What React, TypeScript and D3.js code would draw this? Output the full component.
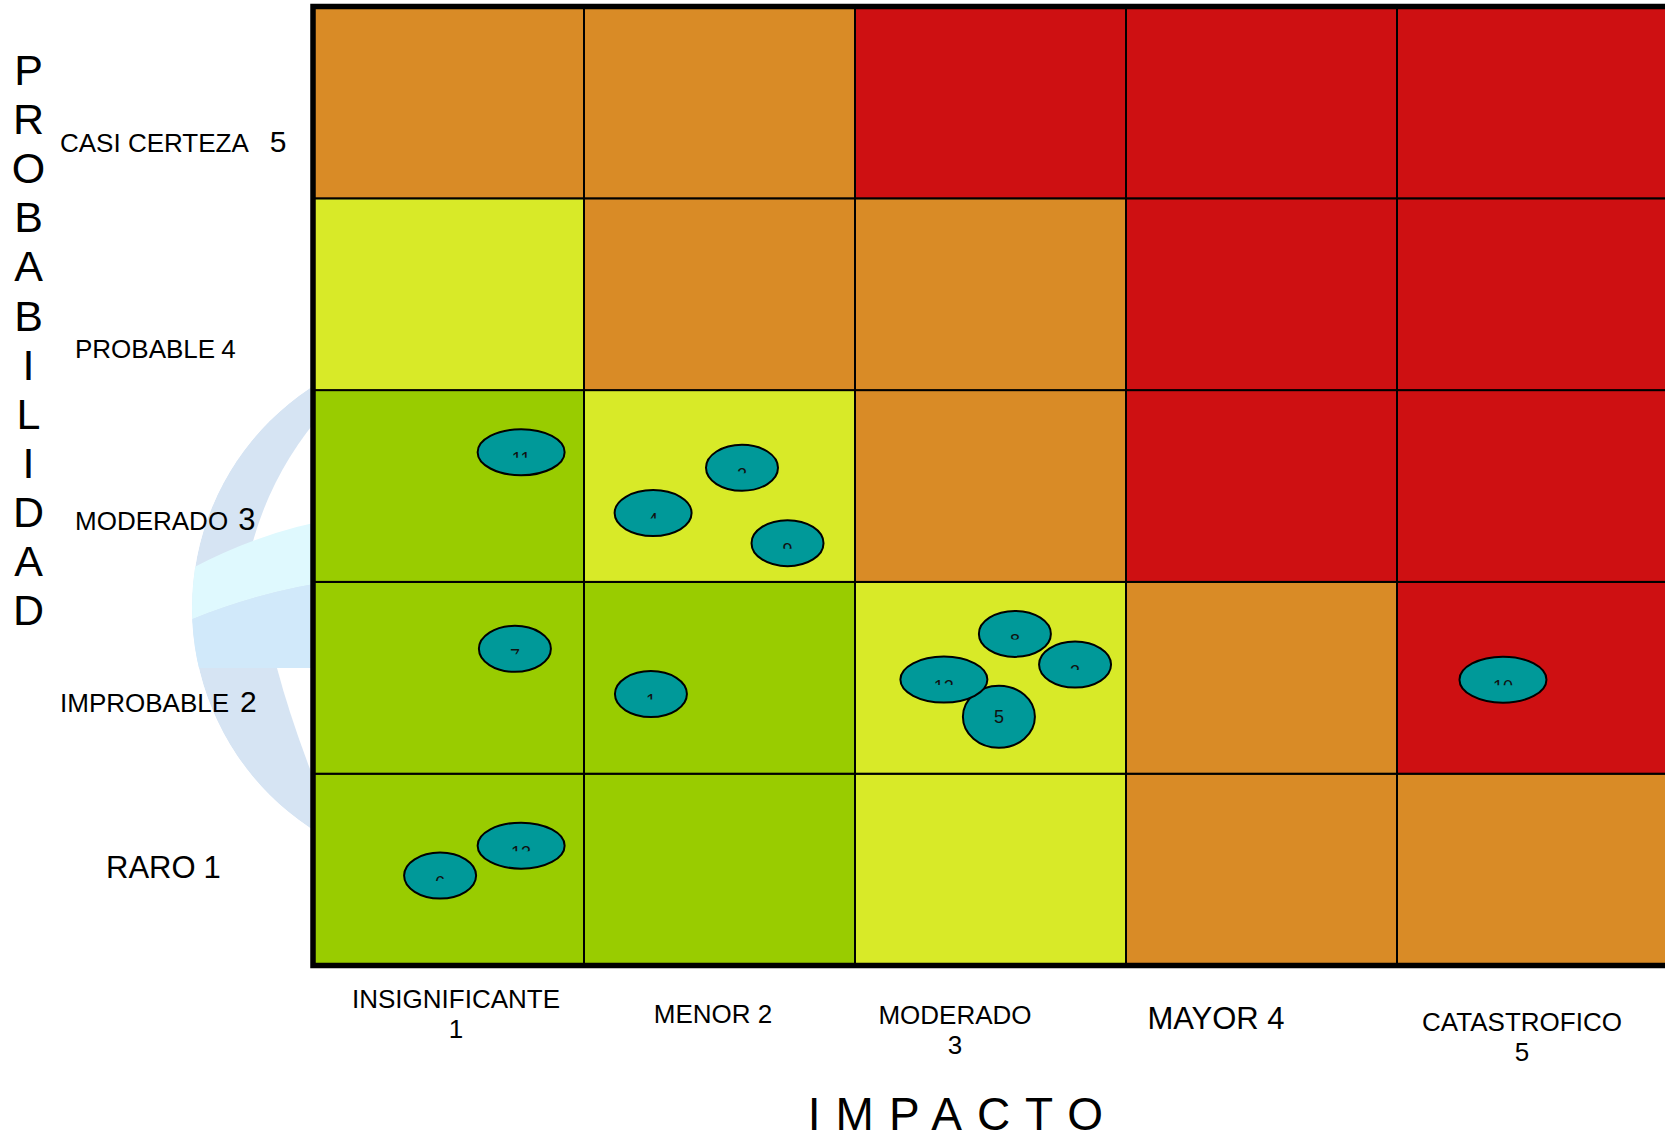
import React, { useEffect, useRef } from 'react';
import * as d3 from 'd3';

// niveles de la matriz
const impactLevels = [1, 2, 3, 4, 5];
const probLevels = [1, 2, 3, 4, 5];

const probNames = ['RARO', 'IMPROBABLE', 'MODERADO', 'PROBABLE', 'CASI CERTEZA'];
const impactLabelLines = [['INSIGNIFICANTE', '1'], ['MENOR 2'], ['MODERADO', '3'], ['MAYOR 4'], ['CATASTROFICO', '5']];

// zona de cada celda: filas = probabilidad 1..5, columnas = impacto 1..5
const riskZones = [
  ['bajo', 'bajo', 'moderado', 'alto', 'alto'],
  ['bajo', 'bajo', 'moderado', 'alto', 'extremo'],
  ['bajo', 'moderado', 'alto', 'extremo', 'extremo'],
  ['moderado', 'alto', 'alto', 'extremo', 'extremo'],
  ['alto', 'alto', 'extremo', 'extremo', 'extremo'],
];

const riskIds = ['1', '2', '3', '4', '5', '6', '7', '8', '9', '10', '11', '12', '13'];
const riskImpact = [1.747, 2.083, 3.312, 1.755, 3.031, 0.969, 1.245, 3.09, 2.251, 4.891, 1.268, 2.828, 1.268];
const riskProb = [1.915, 3.095, 2.069, 2.859, 1.797, 0.969, 2.151, 2.229, 2.702, 1.99, 3.176, 1.991, 1.125];

const zoneColors = { bajo: '#99CC00', moderado: '#D8EA28', alto: '#D98B26', extremo: '#CE1012' };

const FONT = '"Liberation Sans", Arial, sans-serif';

// estilos de las etiquetas (tamaño / desplazamiento)
const probLabelStyle = [
  { x: 106, dy: 8, nameSize: 31, numSize: 31, gap: 8 },
  { x: 60, dy: 34, nameSize: 26, numSize: 30, gap: 11 },
  { x: 75, dy: 44, nameSize: 26, numSize: 31, gap: 10 },
  { x: 75, dy: 64, nameSize: 26, numSize: 26, gap: 6 },
  { x: 60, dy: 50, nameSize: 26, numSize: 30, gap: 21 },
];
const impactLabelStyle = [
  { dx: 7.5, y: 1008, size: 26 },
  { dx: -6.5, y: 1023, size: 26 },
  { dx: -35.5, y: 1024, size: 26 },
  { dx: -45.5, y: 1029, size: 31 },
  { dx: -10.5, y: 1031, size: 26 },
];
const bubbleShape = { '4': [38.5, 23], '5': [36, 31] };

const width = 1665;
const height = 1141;

const App = () => {
  const svgRef = useRef(null);

  useEffect(() => {
    const svg = d3.select(svgRef.current);
    svg.selectAll('*').remove();

    const left = 313, right = 1668, top = 6.5, bottom = 965.5;

    const x = d3.scaleBand().domain(impactLevels).range([left, right]);
    const y = d3.scaleBand().domain([...probLevels].reverse()).range([top, bottom]);
    const xv = d3.scaleLinear().domain([0.5, 5.5]).range([left, right]);
    const yv = d3.scaleLinear().domain([0.5, 5.5]).range([bottom, top]);

    const defs = svg.append('defs');

    // marca de agua (globo) detrás de la matriz
    defs.append('clipPath').attr('id', 'globe').append('circle').attr('cx', 456).attr('cy', 608).attr('r', 264);
    const globe = svg.append('g').attr('clip-path', 'url(#globe)');
    globe.append('circle').attr('cx', 456).attr('cy', 608).attr('r', 264).attr('fill', '#D6E4F3');
    globe.append('path').attr('d', 'M325,410 Q272,470 252,545 L340,545 L340,410 Z').attr('fill', '#fff');
    globe.append('path').attr('d', 'M185,572 Q262,530 340,518 L340,580 Q262,590 185,622 Z').attr('fill', '#DFF9FE');
    globe.append('path').attr('d', 'M185,622 Q262,590 340,580 L340,668 L185,668 Z').attr('fill', '#D1E9FA');
    globe.append('path').attr('d', 'M277,668 Q292,725 322,800 L340,800 L340,668 Z').attr('fill', '#fff');

    // celdas
    const cells = probLevels.flatMap((p) => impactLevels.map((i) => ({ p, i, zone: riskZones[p - 1][i - 1] })));
    svg
      .append('g')
      .selectAll('rect')
      .data(cells)
      .enter()
      .append('rect')
      .attr('x', (d) => x(d.i))
      .attr('y', (d) => y(d.p))
      .attr('width', x.bandwidth())
      .attr('height', y.bandwidth())
      .attr('fill', (d) => zoneColors[d.zone])
      .attr('stroke', '#000')
      .attr('stroke-width', 2);

    svg
      .append('rect')
      .attr('x', left)
      .attr('y', top)
      .attr('width', right - left)
      .attr('height', bottom - top)
      .attr('fill', 'none')
      .attr('stroke', '#000')
      .attr('stroke-width', 5.5);

    // riesgos
    const risks = riskIds.map((id, k) => {
      const shape = bubbleShape[id] || [id.length > 1 ? 43.5 : 36, 23];
      return { id, cx: xv(riskImpact[k]), cy: yv(riskProb[k]), rx: shape[0], ry: shape[1] };
    });

    risks.forEach((r) => {
      if (r.ry < 28) {
        defs
          .append('clipPath')
          .attr('id', `lbl-${r.id}`)
          .append('rect')
          .attr('x', r.cx - r.rx)
          .attr('y', r.cy - r.ry)
          .attr('width', r.rx * 2)
          .attr('height', r.ry + 5.5);
      }
    });

    const bubbles = svg.append('g').selectAll('g').data(risks).enter().append('g');
    bubbles
      .append('ellipse')
      .attr('cx', (d) => d.cx)
      .attr('cy', (d) => d.cy)
      .attr('rx', (d) => d.rx)
      .attr('ry', (d) => d.ry)
      .attr('fill', '#009999')
      .attr('stroke', '#000')
      .attr('stroke-width', 2);
    bubbles
      .append('text')
      .attr('x', (d) => d.cx)
      .attr('y', (d) => (d.ry < 28 ? d.cy + 13 : d.cy + 6.5))
      .attr('clip-path', (d) => (d.ry < 28 ? `url(#lbl-${d.id})` : null))
      .attr('text-anchor', 'middle')
      .attr('font-family', FONT)
      .attr('font-size', 18)
      .attr('fill', '#111')
      .text((d) => d.id);

    // eje de probabilidad
    const probTitle = 'PROBABILIDAD'.split('');
    svg
      .append('g')
      .selectAll('text')
      .data(probTitle)
      .enter()
      .append('text')
      .attr('x', 28.5)
      .attr('y', (d, k) => 85 + k * 49.1)
      .attr('text-anchor', 'middle')
      .attr('font-family', FONT)
      .attr('font-size', 43)
      .attr('fill', '#000')
      .text((d) => d);

    probLevels.forEach((p, k) => {
      const s = probLabelStyle[k];
      const t = svg
        .append('text')
        .attr('x', s.x)
        .attr('y', y(p) + y.bandwidth() / 2 + s.dy)
        .attr('font-family', FONT)
        .attr('fill', '#000');
      t.append('tspan').attr('font-size', s.nameSize).text(probNames[k]);
      t.append('tspan').attr('dx', s.gap).attr('font-size', s.numSize).text(String(p));
    });

    // eje de impacto
    impactLevels.forEach((i, k) => {
      const s = impactLabelStyle[k];
      const cx = x(i) + x.bandwidth() / 2 + s.dx;
      impactLabelLines[k].forEach((line, j) => {
        svg
          .append('text')
          .attr('x', cx)
          .attr('y', s.y + j * 30)
          .attr('text-anchor', 'middle')
          .attr('font-family', FONT)
          .attr('font-size', s.size)
          .attr('fill', '#000')
          .text(line);
      });
    });

    svg
      .append('text')
      .attr('x', 963)
      .attr('y', 1130)
      .attr('text-anchor', 'middle')
      .attr('font-family', FONT)
      .attr('font-size', 46)
      .attr('letter-spacing', 15)
      .attr('fill', '#000')
      .text('IMPACTO');
  }, []);

  return (
    <svg
      ref={svgRef}
      width={width}
      height={height}
      style={{ position: 'absolute', left: 0, top: 0, background: '#fff' }}
    ></svg>
  );
};

export default App;
